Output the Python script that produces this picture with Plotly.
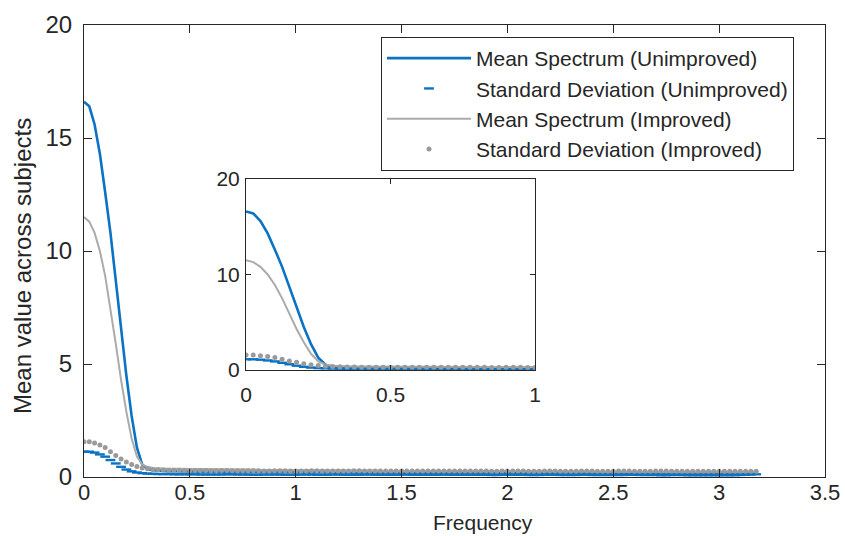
import plotly.graph_objects as go

# ---------------- data ----------------
frequency = [
    0.000, 0.025, 0.050, 0.075, 0.100, 0.125, 0.150, 0.175, 0.200, 0.225,
    0.250, 0.275, 0.300, 0.325, 0.350, 0.375, 0.400, 0.425, 0.450, 0.475,
    0.500, 0.525, 0.550, 0.575, 0.600, 0.625, 0.650, 0.675, 0.700, 0.725,
    0.750, 0.775, 0.800, 0.825, 0.850, 0.875, 0.900, 0.925, 0.950, 0.975,
    1.000, 1.025, 1.050, 1.075, 1.100, 1.125, 1.150, 1.175, 1.200, 1.225,
    1.250, 1.275, 1.300, 1.325, 1.350, 1.375, 1.400, 1.425, 1.450, 1.475,
    1.500, 1.525, 1.550, 1.575, 1.600, 1.625, 1.650, 1.675, 1.700, 1.725,
    1.750, 1.775, 1.800, 1.825, 1.850, 1.875, 1.900, 1.925, 1.950, 1.975,
    2.000, 2.025, 2.050, 2.075, 2.100, 2.125, 2.150, 2.175, 2.200, 2.225,
    2.250, 2.275, 2.300, 2.325, 2.350, 2.375, 2.400, 2.425, 2.450, 2.475,
    2.500, 2.525, 2.550, 2.575, 2.600, 2.625, 2.650, 2.675, 2.700, 2.725,
    2.750, 2.775, 2.800, 2.825, 2.850, 2.875, 2.900, 2.925, 2.950, 2.975,
    3.000, 3.025, 3.050, 3.075, 3.100, 3.125, 3.150, 3.175,
]

mean_unimproved = [
    16.6, 16.4, 15.6, 14.3, 12.6, 10.8, 8.7, 6.6, 4.5, 2.7,
    1.3, 0.55, 0.35, 0.30, 0.28, 0.27, 0.26, 0.26, 0.25, 0.25,
    0.25, 0.24, 0.24, 0.24, 0.24, 0.24, 0.23, 0.23, 0.24, 0.24,
    0.23, 0.23, 0.22, 0.22, 0.23, 0.23, 0.22, 0.22, 0.22, 0.21,
    0.21, 0.22, 0.22, 0.21, 0.21, 0.21, 0.20, 0.20, 0.21, 0.21,
    0.20, 0.20, 0.19, 0.19, 0.20, 0.20, 0.20, 0.19, 0.19, 0.19,
    0.20, 0.20, 0.19, 0.19, 0.18, 0.18, 0.19, 0.19, 0.19, 0.18,
    0.18, 0.18, 0.19, 0.19, 0.18, 0.18, 0.17, 0.17, 0.18, 0.18,
    0.18, 0.17, 0.17, 0.17, 0.18, 0.18, 0.17, 0.17, 0.16, 0.16,
    0.17, 0.17, 0.17, 0.16, 0.16, 0.16, 0.16, 0.17, 0.17, 0.16,
    0.16, 0.15, 0.15, 0.16, 0.16, 0.16, 0.15, 0.15, 0.15, 0.14,
    0.14, 0.15, 0.15, 0.14, 0.14, 0.14, 0.14, 0.13, 0.13, 0.14,
    0.14, 0.13, 0.13, 0.14, 0.15, 0.16, 0.17, 0.18,
]

std_unimproved = [
    1.12, 1.12, 1.08, 1.00, 0.90, 0.75, 0.60, 0.45, 0.33, 0.25,
    0.20, 0.17, 0.15, 0.14, 0.13, 0.13, 0.13, 0.12, 0.12, 0.12,
    0.12, 0.12, 0.11, 0.11, 0.11, 0.11, 0.11, 0.12, 0.12, 0.11,
    0.11, 0.11, 0.10, 0.10, 0.11, 0.11, 0.11, 0.11, 0.10, 0.10,
    0.10, 0.11, 0.11, 0.11, 0.10, 0.10, 0.10, 0.11, 0.11, 0.10,
    0.10, 0.10, 0.10, 0.11, 0.11, 0.10, 0.10, 0.10, 0.10, 0.10,
    0.11, 0.11, 0.10, 0.10, 0.10, 0.10, 0.10, 0.10, 0.11, 0.10,
    0.10, 0.10, 0.10, 0.10, 0.10, 0.10, 0.10, 0.09, 0.09, 0.10,
    0.10, 0.10, 0.10, 0.10, 0.09, 0.09, 0.09, 0.10, 0.10, 0.10,
    0.09, 0.09, 0.09, 0.09, 0.10, 0.10, 0.09, 0.09, 0.09, 0.09,
    0.09, 0.09, 0.09, 0.10, 0.10, 0.09, 0.09, 0.09, 0.09, 0.08,
    0.08, 0.09, 0.09, 0.09, 0.08, 0.08, 0.08, 0.08, 0.08, 0.08,
    0.08, 0.08, 0.08, 0.08, 0.09, 0.10, 0.11, 0.12,
]

mean_improved = [
    11.5, 11.3, 10.8, 10.0, 8.9, 7.5, 5.9, 4.3, 2.9, 1.7,
    0.90, 0.55, 0.45, 0.40, 0.38, 0.37, 0.36, 0.36, 0.36, 0.35,
    0.35, 0.35, 0.35, 0.34, 0.34, 0.34, 0.34, 0.34, 0.33, 0.33,
    0.33, 0.33, 0.33, 0.32, 0.32, 0.32, 0.32, 0.32, 0.31, 0.31,
    0.31, 0.31, 0.31, 0.30, 0.30, 0.30, 0.30, 0.30, 0.30, 0.29,
    0.29, 0.29, 0.29, 0.29, 0.29, 0.29, 0.28, 0.28, 0.28, 0.28,
    0.28, 0.28, 0.28, 0.28, 0.27, 0.27, 0.27, 0.27, 0.27, 0.27,
    0.27, 0.27, 0.26, 0.26, 0.26, 0.26, 0.26, 0.26, 0.26, 0.26,
    0.26, 0.26, 0.26, 0.25, 0.25, 0.25, 0.25, 0.25, 0.25, 0.25,
    0.25, 0.25, 0.25, 0.25, 0.25, 0.25, 0.25, 0.24, 0.24, 0.24,
    0.24, 0.24, 0.24, 0.24, 0.24, 0.24, 0.24, 0.24, 0.24, 0.24,
    0.24, 0.23, 0.23, 0.23, 0.23, 0.23, 0.23, 0.23, 0.23, 0.23,
    0.23, 0.23, 0.23, 0.23, 0.23, 0.23, 0.23, 0.23,
]

std_improved = [
    1.56, 1.56, 1.50, 1.42, 1.30, 1.12, 0.95, 0.80, 0.66, 0.55,
    0.46, 0.40, 0.36, 0.33, 0.32, 0.31, 0.30, 0.30, 0.30, 0.29,
    0.29, 0.29, 0.29, 0.29, 0.28, 0.28, 0.29, 0.29, 0.28, 0.28,
    0.28, 0.28, 0.28, 0.28, 0.27, 0.27, 0.28, 0.28, 0.28, 0.27,
    0.27, 0.27, 0.27, 0.28, 0.28, 0.27, 0.27, 0.27, 0.27, 0.27,
    0.27, 0.28, 0.28, 0.27, 0.27, 0.27, 0.27, 0.26, 0.26, 0.27,
    0.27, 0.27, 0.27, 0.26, 0.26, 0.26, 0.27, 0.27, 0.26, 0.26,
    0.26, 0.26, 0.26, 0.26, 0.26, 0.26, 0.26, 0.25, 0.25, 0.26,
    0.26, 0.26, 0.26, 0.26, 0.25, 0.25, 0.25, 0.26, 0.26, 0.26,
    0.25, 0.25, 0.25, 0.25, 0.26, 0.26, 0.26, 0.25, 0.25, 0.25,
    0.25, 0.26, 0.26, 0.26, 0.25, 0.25, 0.25, 0.25, 0.26, 0.26,
    0.26, 0.25, 0.25, 0.25, 0.25, 0.25, 0.25, 0.25, 0.25, 0.25,
    0.25, 0.25, 0.25, 0.25, 0.25, 0.25, 0.25, 0.25,
]

series_names = [
    "Mean Spectrum (Unimproved)",
    "Standard Deviation (Unimproved)",
    "Mean Spectrum (Improved)",
    "Standard Deviation (Improved)",
]

main_xticks = [0, 0.5, 1, 1.5, 2, 2.5, 3, 3.5]
main_yticks = [0, 5, 10, 15, 20]
inset_xticks = [0, 0.5, 1]
inset_yticks = [0, 10, 20]

x_title = "Frequency"
y_title = "Mean value across subjects"

# ---------------- styling ----------------
BLUE = "#0B72C4"
GRAY_LINE = "#ABABAB"
GRAY_DOT = "#9A9A9A"
AX = "#262626"
FONT = "Liberation Sans, Arial, Helvetica, sans-serif"

W, H = 845, 536
L, R, T, B = 84, 20, 25, 59
pw, ph = W - L - R, H - T - B


def px_x(p):
    return (p - L) / pw


def px_y(p):
    return (H - B - p) / ph


fig = go.Figure()

for xa, ya, show in (("x", "y", True), ("x2", "y2", False)):
    fig.add_trace(go.Scatter(
        x=frequency, y=mean_unimproved, name=series_names[0], mode="lines",
        line=dict(color=BLUE, width=2.6), xaxis=xa, yaxis=ya, showlegend=show))
    fig.add_trace(go.Scatter(
        x=frequency, y=std_unimproved, name=series_names[1], mode="markers",
        marker=dict(symbol="line-ew", size=7, line=dict(color=BLUE, width=2.4)),
        xaxis=xa, yaxis=ya, showlegend=show))
    fig.add_trace(go.Scatter(
        x=frequency, y=mean_improved, name=series_names[2], mode="lines",
        line=dict(color=GRAY_LINE, width=2.0), xaxis=xa, yaxis=ya, showlegend=show))
    fig.add_trace(go.Scatter(
        x=frequency, y=std_improved, name=series_names[3], mode="markers",
        marker=dict(symbol="circle", size=5, color=GRAY_DOT, line=dict(width=0)),
        xaxis=xa, yaxis=ya, showlegend=show))

axis_common = dict(
    showline=True, linecolor=AX, linewidth=1, mirror="ticks",
    ticks="inside", tickcolor=AX, showgrid=False, zeroline=False,
    tickfont=dict(family=FONT, size=24, color=AX),
)

fig.update_layout(
    width=W, height=H,
    margin=dict(l=L, r=R, t=T, b=B, autoexpand=False),
    paper_bgcolor="white", plot_bgcolor="white",
    font=dict(family=FONT, color=AX),
    xaxis=dict(domain=[0, 1], range=[0, 3.5], tickvals=main_xticks,
               ticklen=8, ticklabelstandoff=-4,
               **{**axis_common, "tickfont": dict(family=FONT, size=22, color=AX)}),
    yaxis=dict(domain=[0, 1], range=[0, 20], tickvals=main_yticks,
               ticklen=8, ticklabelstandoff=6, **axis_common),
    xaxis2=dict(domain=[px_x(246), px_x(535)], anchor="y2", range=[0, 1],
                tickvals=inset_xticks, ticklen=5, ticklabelstandoff=6,
                **{**axis_common, "tickfont": dict(family=FONT, size=21, color=AX)}),
    yaxis2=dict(domain=[px_y(370), px_y(179)], anchor="x2", range=[0, 20],
                tickvals=inset_yticks, ticklen=5, ticklabelstandoff=1,
                **{**axis_common, "tickfont": dict(family=FONT, size=21, color=AX)}),
    legend=dict(
        x=px_x(381), y=px_y(37), xanchor="left", yanchor="top",
        bgcolor="white", bordercolor=AX, borderwidth=1,
        font=dict(family=FONT, size=21, color=AX),
        itemwidth=84, tracegroupgap=0,
    ),
    annotations=[
        dict(text=x_title, xref="paper", yref="paper",
             x=px_x(483), y=px_y(536), xanchor="center", yanchor="bottom",
             showarrow=False, font=dict(family=FONT, size=21, color=AX)),
        dict(text=y_title, xref="paper", yref="paper",
             x=px_x(22), y=px_y(266), xanchor="center", yanchor="middle",
             textangle=-90, showarrow=False,
             font=dict(family=FONT, size=24, color=AX)),
    ],
)

fig.write_html("out.html")
